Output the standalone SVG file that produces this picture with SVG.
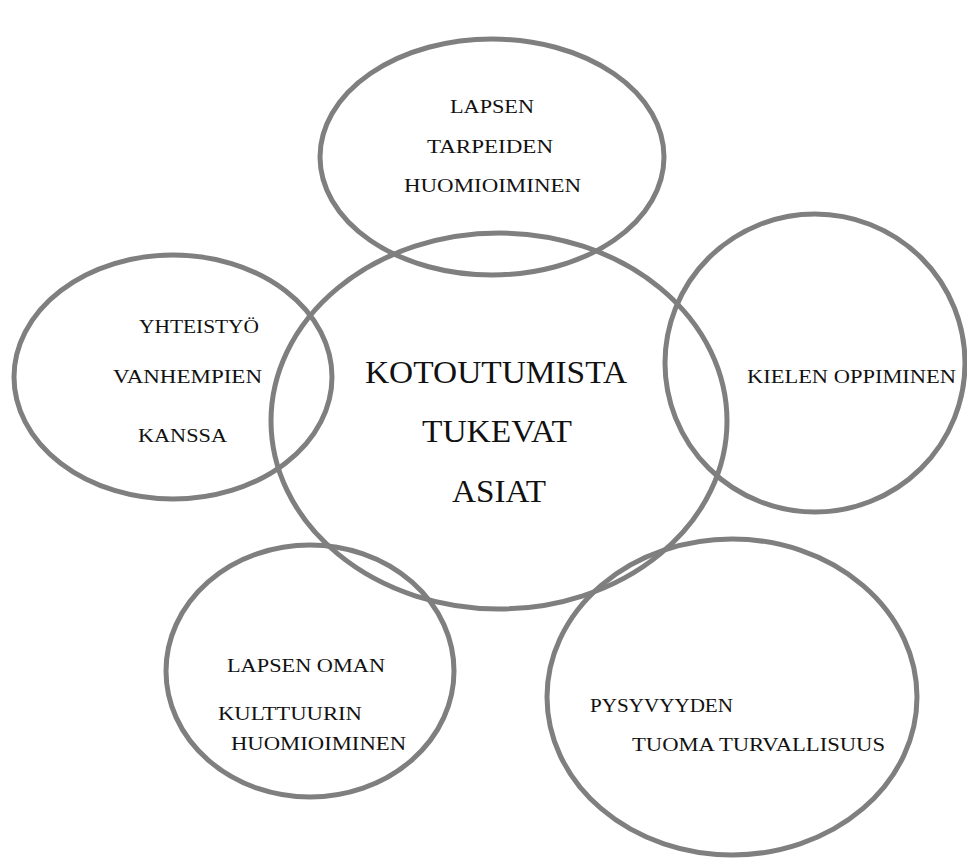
<svg xmlns="http://www.w3.org/2000/svg" width="967" height="859" viewBox="0 0 967 859">
<style>
.e{fill:none;stroke:#7f7f7f;stroke-width:5}
.t{font-family:"Liberation Serif","Times New Roman",serif;font-size:19px;fill:#111}
.b{font-family:"Liberation Serif","Times New Roman",serif;font-size:31px;fill:#111}
</style>
<rect width="967" height="859" fill="#fff"/>
<g id="connectors"></g>
<g id="top">
<ellipse class="e" cx="492" cy="157" rx="172" ry="118"/>
<text class="t" x="450" y="113" textLength="84" lengthAdjust="spacingAndGlyphs">LAPSEN</text>
<text class="t" x="427" y="153" textLength="126" lengthAdjust="spacingAndGlyphs">TARPEIDEN</text>
<text class="t" x="404" y="192" textLength="177" lengthAdjust="spacingAndGlyphs">HUOMIOIMINEN</text>
</g>
<g id="center">
<ellipse class="e" cx="499" cy="421" rx="228" ry="188"/>
<text class="b" x="365" y="383" textLength="262" lengthAdjust="spacingAndGlyphs">KOTOUTUMISTA</text>
<text class="b" x="422" y="442" textLength="150" lengthAdjust="spacingAndGlyphs">TUKEVAT</text>
<text class="b" x="452" y="502" textLength="94" lengthAdjust="spacingAndGlyphs">ASIAT</text>
</g>
<g id="left">
<ellipse class="e" cx="173" cy="377" rx="159" ry="122"/>
<text class="t" x="139" y="333" textLength="120" lengthAdjust="spacingAndGlyphs">YHTEISTYÖ</text>
<text class="t" x="113" y="383" textLength="149" lengthAdjust="spacingAndGlyphs">VANHEMPIEN</text>
<text class="t" x="138" y="442" textLength="89" lengthAdjust="spacingAndGlyphs">KANSSA</text>
</g>
<g id="right">
<ellipse class="e" cx="815" cy="363" rx="150" ry="149"/>
<text class="t" x="747" y="383" textLength="209" lengthAdjust="spacingAndGlyphs">KIELEN OPPIMINEN</text>
</g>
<g id="bottomleft">
<ellipse class="e" cx="310" cy="671" rx="144" ry="126"/>
<text class="t" x="227" y="672" textLength="158" lengthAdjust="spacingAndGlyphs">LAPSEN OMAN</text>
<text class="t" x="218" y="720" textLength="144" lengthAdjust="spacingAndGlyphs">KULTTUURIN</text>
<text class="t" x="231" y="750" textLength="175" lengthAdjust="spacingAndGlyphs">HUOMIOIMINEN</text>
</g>
<g id="bottomright">
<ellipse class="e" cx="732" cy="697" rx="185" ry="158"/>
<text class="t" x="590" y="712" textLength="143" lengthAdjust="spacingAndGlyphs">PYSYVYYDEN</text>
<text class="t" x="632" y="751" textLength="253" lengthAdjust="spacingAndGlyphs">TUOMA TURVALLISUUS</text>
</g>
</svg>
